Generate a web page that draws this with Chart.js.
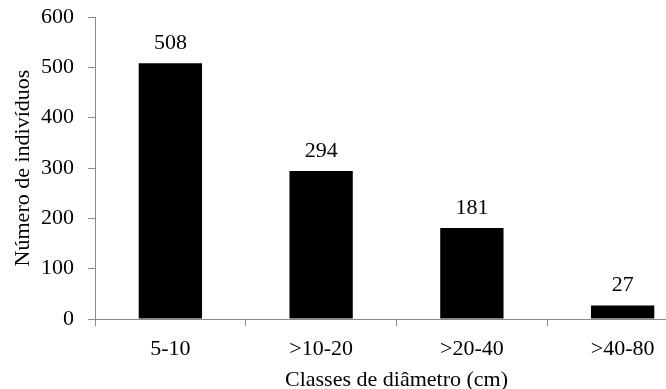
<!DOCTYPE html>
<html>
<head>
<meta charset="utf-8">
<script src="https://cdn.jsdelivr.net/npm/chart.js@4/dist/chart.umd.min.js"></script>
<style>
    html, body { margin: 0; padding: 0; background: #fff; overflow: hidden; }
    #wrap { width: 698px; height: 389px; }
</style>
</head>
<body>
<div id="wrap"><canvas id="diametro" width="698" height="389"></canvas></div>
<script>
const classes = ['5-10', '>10-20', '>20-40', '>40-80'];
const individuos = [508, 294, 181, 27];
const yTicks = [0, 100, 200, 300, 400, 500, 600];

const serif = 'Liberation Serif, Times New Roman, serif';
const axisGray = '#8c8c8c';

// values above each bar
const barValues = {
    id: 'barValues',
    afterDatasetsDraw(chart) {
        const ctx = chart.ctx;
        const meta = chart.getDatasetMeta(0);
        ctx.save();
        ctx.font = '22px ' + serif;
        ctx.fillStyle = '#000';
        ctx.textAlign = 'center';
        ctx.textBaseline = 'alphabetic';
        meta.data.forEach((bar, i) => {
            ctx.fillText(individuos[i], bar.x, bar.y - 14);
        });
        ctx.restore();
    },
};

new Chart(document.getElementById('diametro'), {
    type: 'bar',
    data: {
        labels: classes,
        datasets: [
            {
                data: individuos,
                backgroundColor: '#000',
                borderWidth: 0,
                barPercentage: 0.42,
                categoryPercentage: 1,
            },
        ],
    },
    options: {
        responsive: false,
        animation: false,
        layout: {
            padding: { top: 17, right: 0, bottom: 0, left: 0 },
        },
        plugins: {
            legend: { display: false },
            tooltip: { enabled: false },
        },
        scales: {
            x: {
                offset: true,
                grid: {
                    offset: true,
                    drawOnChartArea: false,
                    drawTicks: true,
                    tickLength: 7,
                    color: axisGray,
                },
                border: { color: axisGray, width: 1 },
                ticks: {
                    color: '#000',
                    padding: 10,
                    maxRotation: 0,
                    font: { family: serif, size: 22 },
                },
                title: {
                    display: true,
                    text: 'Classes de diâmetro (cm)',
                    color: '#000',
                    font: { family: serif, size: 22, lineHeight: 1 },
                    padding: { top: 0, bottom: -2 },
                },
                afterFit(scale) {
                    scale.height = 70;
                    scale.paddingLeft = 0;
                    scale.paddingRight = 0;
                },
            },
            y: {
                min: 0,
                max: 600,
                afterBuildTicks(scale) {
                    scale.ticks = yTicks.map(v => ({ value: v }));
                },
                grid: {
                    drawOnChartArea: false,
                    drawTicks: true,
                    tickLength: 7,
                    color: axisGray,
                },
                border: { color: axisGray, width: 1 },
                ticks: {
                    color: '#000',
                    padding: 14,
                    font: { family: serif, size: 22 },
                },
                title: {
                    display: true,
                    text: 'Número de indivíduos',
                    color: '#000',
                    font: { family: serif, size: 22, lineHeight: 1 },
                    padding: { top: 12, bottom: 0 },
                },
                afterFit(scale) {
                    scale.width = 95;
                    scale.paddingTop = 0;
                    scale.paddingBottom = 0;
                },
            },
        },
    },
    plugins: [barValues],
});
</script>
</body>
</html>
